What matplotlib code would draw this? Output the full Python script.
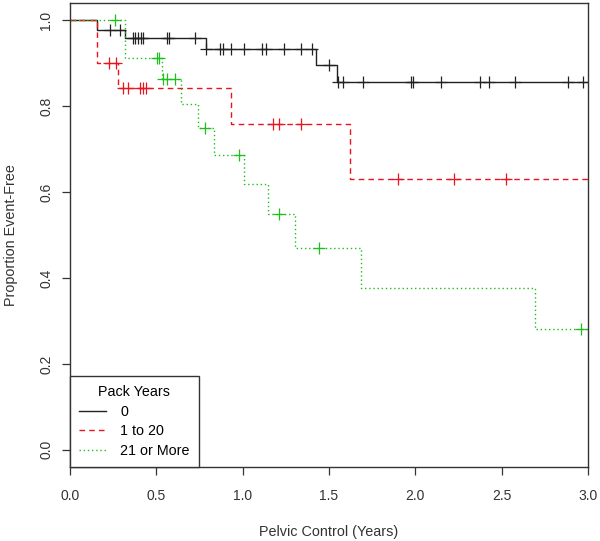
import matplotlib
matplotlib.use("Agg")
import matplotlib.pyplot as plt
import numpy as np

plt.rcParams['font.family'] = ['Liberation Sans', 'DejaVu Sans']

# Kaplan-Meier curves: event times and survival levels
groups = ["0", "1 to 20", "21 or More"]

t_0 = [0.155, 0.32, 0.786, 1.427, 1.548]
s_0 = [0.978, 0.959, 0.932, 0.895, 0.855]
c_0 = [0.23, 0.29, 0.363, 0.375, 0.392, 0.413, 0.424, 0.564, 0.573, 0.722,
       0.79, 0.869, 0.884, 0.93, 1.008, 1.114, 1.133, 1.239, 1.338, 1.403,
       1.50, 1.555, 1.579, 1.698, 1.974, 1.984, 2.15, 2.372, 2.426, 2.577,
       2.882, 2.969]

t_1 = [0.156, 0.278, 0.932, 1.621]
s_1 = [0.901, 0.843, 0.758, 0.630]
c_1 = [0.228, 0.264, 0.309, 0.338, 0.405, 0.424, 0.438, 1.177, 1.21, 1.336,
       1.897, 2.224, 2.523]

t_2 = [0.32, 0.531, 0.641, 0.743, 0.836, 1.009, 1.148, 1.303, 1.683, 2.692]
s_2 = [0.913, 0.864, 0.806, 0.750, 0.687, 0.619, 0.548, 0.469, 0.376, 0.281]
c_2 = [0.26, 0.506, 0.515, 0.54, 0.564, 0.608, 0.782, 0.98, 1.21, 1.442,
       2.957]

times = [t_0, t_1, t_2]
survs = [s_0, s_1, s_2]
cens = [c_0, c_1, c_2]
colors = ['#222222', '#E8141E', '#1DBF1D']
styles = ['-', (0, (4, 3)), (0, (1, 2))]

fig = plt.figure(figsize=(6.0, 5.41), dpi=100)
ax = fig.add_axes([70 / 600, 1 - 467 / 541, 518 / 600, 464 / 541])

t_end = 3.0
for g, t, s, c, col, ls in zip(groups, times, survs, cens, colors, styles):
    tt = np.array([0.0] + t + [t_end])
    ss = np.array([1.0] + s + [s[-1]])
    ax.step(tt, ss, where='post', color=col, linestyle=ls, lw=1.0, label=g)
    ct = np.array(c)
    idx = np.searchsorted(tt, ct, side='right') - 1
    ax.plot(ct, ss[idx], linestyle='none', marker='+', color=col,
            markersize=8, markeredgewidth=0.9)

ax.set_xlim(0, 3.0)
ax.set_ylim(-0.04, 1.04)
ax.set_xticks([0.0, 0.5, 1.0, 1.5, 2.0, 2.5, 3.0])
ax.set_xticklabels(['0.0', '0.5', '1.0', '1.5', '2.0', '2.5', '3.0'])
ax.set_yticks([0.0, 0.2, 0.4, 0.6, 0.8, 1.0])
ax.set_yticklabels(['0.0', '0.2', '0.4', '0.6', '0.8', '1.0'], rotation=90,
                   va='center')
ax.tick_params(direction='out', length=6, width=0.9, colors='#333333',
               labelsize=10, labelcolor='#333333')
ax.tick_params(axis='x', pad=9.5)
ax.tick_params(axis='y', pad=6)
for sp in ax.spines.values():
    sp.set_color('#333333')
    sp.set_linewidth(1.0)

ax.set_xlabel('Pelvic Control (Years)', fontsize=10.4, color='#333333',
              labelpad=16)
ax.set_ylabel('Proportion Event-Free', fontsize=10.4, color='#333333',
              labelpad=15)

leg = ax.legend(title='Pack Years', loc='lower left', bbox_to_anchor=(0, 0),
                borderaxespad=0, fancybox=False, fontsize=10.3,
                title_fontsize=10.3, handlelength=1.9, labelspacing=0.4,
                borderpad=0.62, handletextpad=1.0)
leg.get_frame().set_edgecolor('#333333')
leg.get_frame().set_linewidth(1.0)
leg.get_frame().set_alpha(1)

plt.savefig('out.png', dpi=100)
plt.close()
